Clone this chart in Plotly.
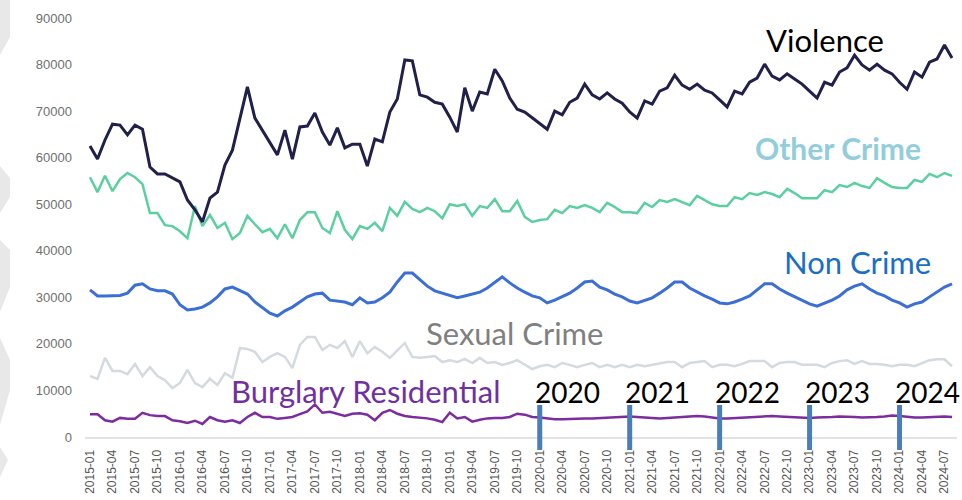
import plotly.graph_objects as go

# monthly categories 2015-01 .. 2024-08
months = [f"{y}-{m:02d}" for y in range(2015, 2025) for m in range(1, 13)][:116]

violence = [
    62500, 59700, 63800, 67200, 67000, 64900, 67000, 66100, 58000, 56500,
    56500, 55600, 54800, 50900, 48800, 46200, 51300, 52600, 58400, 61600,
    68100, 75200, 68500, 65900, 63400, 60600, 65900, 59700, 66600, 66800,
    69600, 65500, 62700, 66400, 62100, 62900, 62900, 58200, 64000, 63400,
    69800, 72600, 81000, 80800, 73500, 73000, 71900, 71500, 68700, 65500,
    75000, 70000, 74100, 73700, 79000, 76500, 72800, 70400, 69800, 68500,
    67200, 66100, 70000, 69200, 71900, 72800, 75800, 73500, 72600, 73900,
    72600, 71700, 69800, 68500, 72200, 71500, 74300, 75000, 77700, 75600,
    74700, 75800, 74500, 73900, 72400, 70900, 74300, 73700, 76200, 77100,
    80100, 77500, 76700, 78000, 76900, 75800, 74300, 72800, 76200, 75600,
    78400, 79300, 82000, 79900, 78800, 80100, 78800, 78000, 76200, 74700,
    78400, 77300, 80500, 81200, 84200, 81400,
]

other_crime = [
    55800, 52600, 56100, 52800, 55400, 56700, 55800, 54300, 48100, 48100,
    45500, 45300, 44200, 42700, 49600, 45300, 47700, 44900, 46000, 42500,
    43800, 47500, 45700, 44000, 44700, 42700, 45700, 42700, 46600, 48300,
    48300, 44900,
    43800, 48500, 44500, 42500, 45300, 44700, 46000, 44200, 49200, 47500,
    50500, 49000, 48300, 49200, 48500, 47000, 50000, 49600, 50000, 47500,
    49600, 49200, 51100, 48500, 48500, 50700, 47300, 46200, 46600, 46800,
    48800, 48100, 49600, 49200, 49800, 49200, 48300, 50300, 49400, 48300,
    48300, 48100,
    50300, 49400, 50900, 50500, 51100, 50500, 49800, 51800, 50900, 50000,
    49600, 49600, 51500, 51100, 52400, 52000, 52600, 52200, 51500, 53300,
    52400, 51300, 51300, 51300, 53000, 52600, 54100, 53700, 54600, 53900,
    53500, 55600, 54600, 53700, 53500, 53500, 55200, 54800, 56500, 55800,
    56700, 56100,
]

non_crime = [
    31600, 30300, 30300, 30400, 30400, 30900, 32600, 32900, 31800, 31400,
    31400, 30700, 28400, 27300, 27500, 27900, 28800, 30100, 31800, 32200,
    31400, 30700, 29000, 27700, 26600, 26000, 27100, 27900, 29000, 30100,
    30700,
    30900, 29400, 29200, 29000, 28400, 29900, 28800, 29000, 29900, 31100,
    33300, 35200, 35200, 33700, 32400, 31400, 30900, 30300, 29900, 30300,
    30700, 31100, 32000, 33300, 34400, 33100, 32000, 31100, 30300, 29900,
    28800, 29400, 30100, 30900, 32000, 33300, 33500, 32200, 31600, 30700,
    30100, 29200, 28800,
    29400, 29900, 30900, 32000, 33300, 33300, 32000, 31100, 30300, 29600,
    28800, 28600, 29000, 29600, 30300, 31600, 32900, 32900, 31800, 30900,
    30100, 29400, 28600, 28100, 28800, 29400, 30300, 31600, 32400, 32900,
    31800, 30900, 30300, 29400, 28800, 27900, 28600, 29000, 30100, 31100,
    32200, 32900,
]

sexual_crime = [
    13100, 12500, 17000, 14200, 14200, 13500, 15700, 13100, 15000, 13100,
    12200, 10500, 11600, 14400, 11600, 10700, 12500, 11200, 13700, 12700,
    19100, 18900, 18300, 16100, 17200, 18000, 17200, 14800, 19800, 21500,
    21500,
    18700, 19800, 19100, 20600, 17200, 20600, 18000, 19300, 18300, 17000,
    18700, 20200, 17200, 17000, 17200, 17400, 16100, 16500, 16100, 16800,
    15900, 17000, 15900, 16100, 15500, 15900, 16500, 15500, 14600, 15200,
    15500, 15000, 15900, 15500, 15000, 15500, 15900, 15000, 15500, 15000,
    15500, 15000, 15500,
    15200, 15500, 15700, 16100, 16100, 15000, 15900, 16100, 16300, 15000,
    15500, 15500, 15200, 15700, 16300, 16300, 16300, 15000, 15900, 16100,
    16100, 15500, 15500, 15500, 15000, 15900, 16300, 16500, 15700, 16300,
    15700, 15700, 15500, 15200, 15500, 15500, 15200, 15900, 16500, 16700,
    16700, 15200,
]

burglary = [
    4900, 4900, 3600, 3300, 4100, 3900, 3900, 5200, 4700, 4500,
    4500, 3600, 3400, 3000, 3500, 2800, 4300, 3600, 3300, 3600,
    3000, 4300, 5200, 4300, 4300, 3900, 4100, 4300, 4900, 5500,
    7000,
    5200, 5400, 5000, 4500, 5000, 5100, 4800, 3600, 5200, 5800,
    5000, 4500, 4300, 4200, 4000, 3700, 3200, 5200, 4000, 4300,
    3300, 3700, 4000, 4100, 4100, 4300, 5000, 4800, 4300, 4200,
    4000, 3800,
    3800, 3900, 3900, 4000, 4000, 4100, 4200, 4200, 4300, 4400,
    4300, 4200, 4100, 4000, 4100, 4200, 4300, 4400, 4500, 4400,
    4200, 4000, 4000, 4100, 4200, 4300, 4300, 4400, 4500, 4400,
    4300, 4200, 4100, 4100, 4200, 4200, 4300, 4400, 4400, 4300,
    4200, 4200, 4300, 4400, 4600, 4500, 4300, 4200, 4200, 4300,
    4300, 4400, 4300,
]

year_marks = ["2020-01", "2021-01", "2022-01", "2023-01", "2024-01"]
year_labels = ["2020", "2021", "2022", "2023", "2024"]

y_ticks = list(range(0, 90001, 10000))

W, H = 962, 500
ML, MR, MT, MB = 85, 5, 18, 63
PW, PH = W - ML - MR, H - MT - MB


def paper(xp, yp):
    # pixel position -> paper coords (for decoration only)
    return (xp - ML) / PW, (H - MB - yp) / PH


series = [
    ("Sexual Crime", sexual_crime, "#d3dae0", 2.5),
    ("Burglary Residential", burglary, "#7d2c9e", 2.5),
    ("Non Crime", non_crime, "#3b6fd6", 3),
    ("Other Crime", other_crime, "#5ccfa0", 2.5),
    ("Violence", violence, "#20204a", 3),
]

fig = go.Figure()
for name, vals, color, width in series:
    fig.add_trace(go.Scatter(
        x=months, y=vals, mode="lines", name=name,
        line={"color": color, "width": width},
    ))

# light grey chevrons down the left edge
chevrons = [
    [(0, 0), (10, 0), (10, 37), (0, 55)],
    [(0, 166), (10, 178), (10, 197), (0, 213)],
    [(0, 240), (10, 250), (10, 287), (0, 312)],
    [(0, 338), (10, 360), (10, 390), (0, 425)],
    [(0, 447), (8, 460), (0, 477)],
]
shapes = []
for poly in chevrons:
    pts = [paper(x, y) for x, y in poly]
    path = "M " + " L ".join(f"{a:.4f},{b:.4f}" for a, b in pts) + " Z"
    shapes.append({
        "type": "path", "path": path, "xref": "paper", "yref": "paper",
        "fillcolor": "#e8e8e8", "line": {"width": 0}, "layer": "below",
    })

y_top = paper(0, 405)[1]
y_bot = paper(0, 450)[1]
for m in year_marks:
    shapes.append({
        "type": "line", "xref": "x", "yref": "paper",
        "x0": m, "x1": m, "y0": y_bot, "y1": y_top,
        "line": {"color": "#4a7ebb", "width": 5},
    })

annotations = []
label_font = "Lato, 'Open Sans', sans-serif"
labels = [
    ("Violence", 825, 40, "#000000", False, 31),
    ("Other Crime", 838, 148, "#92cddc", True, 30),
    ("Non Crime", 857, 262, "#1a6fc4", False, 31),
    ("Sexual Crime", 514, 333, "#808080", False, 31),
    ("Burglary Residential", 365, 391, "#7030a0", False, 31),
]
for text, xp, yp, color, bold, size in labels:
    ax, ay = paper(xp, yp)
    annotations.append({
        "text": f"<b>{text}</b>" if bold else text,
        "x": ax, "y": ay, "xref": "paper", "yref": "paper",
        "showarrow": False, "xanchor": "center", "yanchor": "middle",
        "font": {"family": label_font, "size": size, "color": color},
    })

for m, lab in zip(year_marks, year_labels):
    annotations.append({
        "text": lab, "x": m, "xref": "x", "y": paper(0, 392)[1], "yref": "paper",
        "xanchor": "left", "yanchor": "middle", "xshift": -6, "showarrow": False,
        "borderpad": 0,
        "font": {"family": label_font, "size": 28, "color": "#000000"},
    })

fig.update_layout(
    width=W, height=H,
    margin={"l": ML, "r": MR, "t": MT, "b": MB},
    paper_bgcolor="white", plot_bgcolor="white",
    showlegend=False,
    shapes=shapes, annotations=annotations,
    font={"family": "Liberation Sans, Arial, sans-serif"},
)
fig.update_xaxes(
    type="category", range=[-0.667, 115.667],
    tickvals=months[::3], ticktext=months[::3], tickangle=-90,
    tickfont={"size": 12, "color": "#555555"},
    showgrid=False, zeroline=False,
    showline=True, linecolor="#e2e2e2", linewidth=2,
    ticks="", ticklabelstandoff=6, automargin=False,
)
fig.update_yaxes(
    range=[0, 90000], tickvals=y_ticks, ticktext=[str(v) for v in y_ticks],
    tickfont={"size": 13, "color": "#707070"},
    showgrid=False, zeroline=False, showline=False,
    ticks="", ticklabelstandoff=12, automargin=False,
)

fig.write_html("out.html", config={"displayModeBar": False})

# drop the browser's default body margin so the figure sits at the page corner
with open("out.html", encoding="utf-8") as fh:
    html = fh.read()
html = html.replace("<body>", '<body style="margin:0">', 1)
with open("out.html", "w", encoding="utf-8") as fh:
    fh.write(html)
